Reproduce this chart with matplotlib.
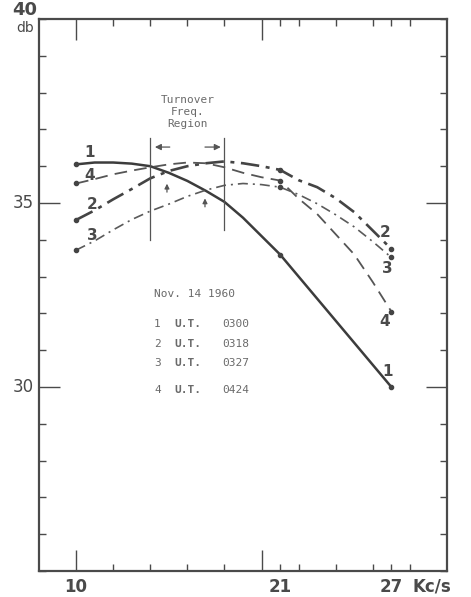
import matplotlib.pyplot as plt
import numpy as np

# frequency (Kc/s) and signal level (db)
freq = [10, 11, 12, 13, 14, 15, 16, 17, 18, 19, 20, 21, 22, 23, 24, 25, 26, 27]
curve1 = [36.05, 36.1, 36.1, 36.07, 36.0, 35.82, 35.6, 35.33, 35.03, 34.6, 34.1, 33.6,
          33.0, 32.4, 31.8, 31.2, 30.6, 30.0]
curve2 = [34.54, 34.8, 35.1, 35.38, 35.67, 35.87, 36.0, 36.08, 36.13, 36.08, 36.0, 35.9,
          35.62, 35.43, 35.13, 34.75, 34.25, 33.75]
curve3 = [33.72, 33.97, 34.27, 34.55, 34.78, 34.97, 35.18, 35.35, 35.48, 35.53, 35.5, 35.43,
          35.23, 34.98, 34.68, 34.35, 33.95, 33.52]
curve4 = [35.53, 35.65, 35.78, 35.88, 35.97, 36.05, 36.1, 36.08, 35.97, 35.82, 35.7, 35.61,
          35.12, 34.7, 34.15, 33.6, 32.85, 32.05]
measured = [10, 21, 27]

legend_rows = [("1", "0300"), ("2", "0318"), ("3", "0327"), ("4", "0424")]
turnover = [14, 18]

ink = "#4a4a4a"
pale = "#6a6a6a"
mono = "DejaVu Sans Mono"

fig = plt.figure(figsize=(4.71, 5.97), dpi=100)
ax = fig.add_axes([39 / 471, 26 / 597, 408 / 471, 552 / 597])
ax.set_xlim(8, 30)
ax.set_ylim(25, 40)

curves = [curve1, curve2, curve3, curve4]
styles = [
    dict(linestyle="-", linewidth=1.8, color="#3c3c3c"),
    dict(linestyle=(0, (7, 2.5, 1.5, 2.5)), linewidth=1.9, color="#444444"),
    dict(linestyle=(0, (6, 3, 1.2, 3)), linewidth=1.2, color="#5a5a5a"),
    dict(linestyle=(0, (7, 4)), linewidth=1.3, color="#555555"),
]
for vals, st in zip(curves, styles):
    ax.plot(freq, vals, **st)
    pts = [vals[freq.index(f)] for f in measured]
    ax.plot(measured, pts, "o", color="#444444", markersize=3)

# curve numbers at both ends
left_lab = {"1": (10.75, 36.36), "4": (10.75, 35.76), "2": (10.86, 34.95), "3": (10.86, 34.13)}
right_lab = {"2": (26.65, 34.21), "3": (26.76, 33.23), "4": (26.65, 31.77), "1": (26.81, 30.41)}
for d in (left_lab, right_lab):
    for k, (x, y) in d.items():
        ax.text(x, y, k, fontsize=11, color=ink, ha="center", va="center", fontweight="bold")

# turnover region
ax.plot([turnover[0]] * 2, [36.77, 33.99], color="#555555", lw=0.9)
ax.plot([turnover[1]] * 2, [36.77, 34.27], color="#555555", lw=0.9)
ax.annotate("", xy=(14.1, 36.52), xytext=(15.2, 36.52),
            arrowprops=dict(arrowstyle="-|>", color="#555555", lw=0.9, mutation_scale=9))
ax.annotate("", xy=(17.95, 36.52), xytext=(16.8, 36.52),
            arrowprops=dict(arrowstyle="-|>", color="#555555", lw=0.9, mutation_scale=9))
ax.annotate("", xy=(14.9, 35.6), xytext=(14.9, 35.22),
            arrowprops=dict(arrowstyle="-|>", color="#555555", lw=0.9, mutation_scale=7))
ax.annotate("", xy=(16.95, 35.2), xytext=(16.95, 34.82),
            arrowprops=dict(arrowstyle="-|>", color="#555555", lw=0.9, mutation_scale=7))
ax.text(16, 37.47, "Turnover\nFreq.\nRegion", family=mono, fontsize=8,
        color=pale, ha="center", va="center", linespacing=1.25)

# typed legend
ax.text(14.2, 32.52, "Nov. 14 1960", family=mono, fontsize=8, color=pale, va="center")
for i, (n, t) in enumerate(legend_rows):
    y = [31.7, 31.18, 30.64, 29.93][i]
    ax.text(14.2, y, n, family=mono, fontsize=8, color=pale, va="center")
    ax.text(15.3, y, "U.T.", family=mono, fontsize=8, color=pale,
            va="center", fontweight="bold")
    ax.text(17.9, y, t, family=mono, fontsize=8, color=pale, va="center")

# axes frame and ticks
for s in ax.spines.values():
    s.set_color(ink)
    s.set_linewidth(1.6)
ax.set_xticks([10, 20])
ax.set_xticks([12, 14, 16, 18, 21, 22, 24, 26, 27, 28], minor=True)
ax.set_yticks([30, 35])
ax.set_yticks(np.arange(25, 41, 1), minor=True)
ax.tick_params(which="both", direction="in", top=True, right=True, colors=ink,
               labelbottom=False, labelleft=False)
ax.tick_params(which="major", length=15, width=1.0)
ax.tick_params(which="minor", length=5, width=1.0)

xt = ax.get_xaxis_transform()
for v in measured:
    ax.text(v, -0.012, str(v), transform=xt, ha="center", va="top", fontsize=12,
            color=ink, fontweight="bold")
ax.text(29.2, -0.012, "Kc/s", transform=xt, ha="center", va="top", fontsize=12,
        color=ink, fontweight="bold")
yt = ax.get_yaxis_transform()
for v in [30, 35]:
    ax.text(-0.012, v, str(v), transform=yt, ha="right", va="center", fontsize=12,
            color=ink)
ax.text(-0.005, 40.25, "40", transform=yt, ha="right", va="center", fontsize=13,
        color=ink, fontweight="bold")
ax.text(-0.012, 39.76, "db", transform=yt, ha="right", va="center", fontsize=10,
        color=ink)

fig.savefig("out.png", dpi=100)
